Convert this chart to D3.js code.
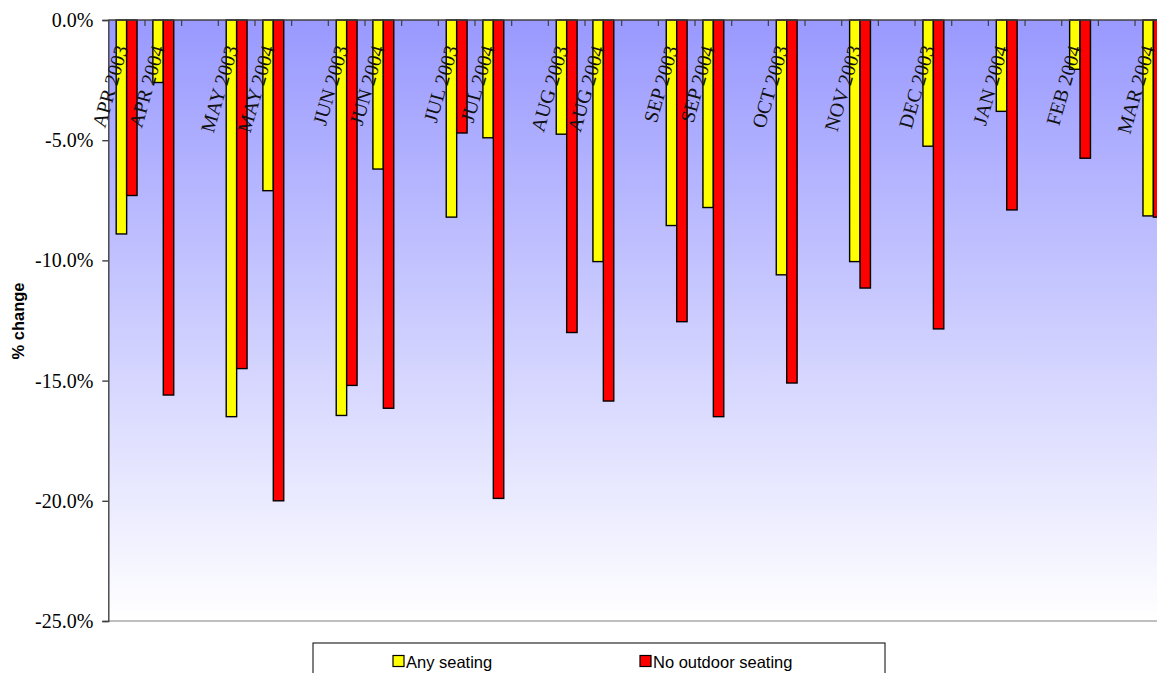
<!DOCTYPE html>
<html><head><meta charset="utf-8">
<script src="https://cdn.jsdelivr.net/npm/d3@7"></script>
<style>
html,body{margin:0;padding:0;background:#fff;overflow:hidden;}
svg{display:block;}
</style></head>
<body>
<svg id="chart" width="1157" height="673"></svg>
<script>
// ---- data ----
const categories = ["APR 2003","APR 2004","","MAY 2003","MAY 2004","","JUN 2003","JUN 2004","","JUL 2003","JUL 2004","","AUG 2003","AUG 2004","","SEP 2003","SEP 2004","","OCT 2003","","NOV 2003","","DEC 2003","","JAN 2004","","FEB 2004","","MAR 2004"];
const anySeating = [-8.9,-2.6,null,-16.5,-7.1,null,-16.45,-6.2,null,-8.2,-4.9,null,-4.75,-10.05,null,-8.55,-7.8,null,-10.6,null,-10.05,null,-5.25,null,-3.8,null,-2.05,null,-8.15];
const noOutdoor = [-7.3,-15.6,null,-14.5,-20.0,null,-15.2,-16.15,null,-4.7,-19.9,null,-13.0,-15.85,null,-12.55,-16.5,null,-15.1,null,-11.15,null,-12.85,null,-7.9,null,-5.75,null,-8.2];
const seriesNames = ["Any seating","No outdoor seating"];
const seriesColors = ["#FFFF00","#FF0000"];
const yTicks = [0,-5,-10,-15,-20,-25];
const yTitle = "% change";

(function(){
const svg = d3.select("#chart");
const pLeft = 108.3, pTop = 20, pBottom = 621;
const step = 36.67;
const pRight = pLeft + categories.length * step;

const x0 = d3.scaleBand().domain(d3.range(categories.length)).range([pLeft, pRight]).padding(0);
const x1 = d3.scaleBand().domain([0,1]).range([0, x0.bandwidth()]).paddingInner(0).paddingOuter(0.76);
const y = d3.scaleLinear().domain([-25, 0]).range([pBottom, pTop]);

// background gradient
const defs = svg.append("defs");
const grad = defs.append("linearGradient").attr("id","bg").attr("x1",0).attr("y1",0).attr("x2",0).attr("y2",1);
grad.append("stop").attr("offset","0%").attr("stop-color","#9999FF");
grad.append("stop").attr("offset","100%").attr("stop-color","#FFFFFF");
svg.append("rect").attr("x", pLeft).attr("y", y(0)).attr("width", pRight-pLeft).attr("height", y(-25)-y(0)).attr("fill","url(#bg)");

// bottom border of plot area
svg.append("line").attr("x1", pLeft).attr("x2", pRight).attr("y1", y(-25)).attr("y2", y(-25)).attr("stroke","#808080").attr("stroke-width",1.2);

// category ticks at slot boundaries
svg.append("g").selectAll("line").data(d3.range(1, categories.length)).join("line")
  .attr("x1", i => x0(i)).attr("x2", i => x0(i))
  .attr("y1", y(0)).attr("y2", y(0)+6)
  .attr("stroke","#404040").attr("stroke-width",1.2);

// bars
const rows = categories.map((c,i) => ({i, vals:[anySeating[i], noOutdoor[i]]}));
const grp = svg.append("g").selectAll("g").data(rows).join("g")
  .attr("transform", d => `translate(${x0(d.i)},0)`);
grp.selectAll("rect").data(d => d.vals.map((v,k)=>({v,k})).filter(e => e.v !== null)).join("rect")
  .attr("x", e => x1(e.k))
  .attr("width", x1.bandwidth())
  .attr("y", y(0))
  .attr("height", e => y(e.v) - y(0))
  .attr("fill", e => seriesColors[e.k])
  .attr("stroke","#000").attr("stroke-width",1.4);

// top axis line
svg.append("line").attr("x1", pLeft).attr("x2", pRight).attr("y1", y(0)).attr("y2", y(0)).attr("stroke","#404040").attr("stroke-width",1.6);

// y axis
const yAxis = d3.axisLeft(y).tickValues(yTicks).tickSize(6).tickPadding(9).tickFormat(d => d.toFixed(1) + "%");
const ya = svg.append("g").attr("transform", `translate(${pLeft},0)`).call(yAxis);
ya.select(".domain").attr("stroke","#404040").attr("stroke-width",1.4);
ya.selectAll(".tick line").attr("stroke","#404040").attr("stroke-width",1.4);
ya.selectAll(".tick text").attr("font-family","'Liberation Serif','Times New Roman',serif").attr("font-size",20).attr("fill","#000");

// category labels (rotated, on top of bars)
svg.append("g").selectAll("text").data(rows.filter(d => categories[d.i] !== "")).join("text")
  .attr("transform", d => `translate(${x0(d.i)+x0.bandwidth()/2+1.5},48) rotate(-74)`)
  .attr("text-anchor","end")
  .attr("font-family","'Liberation Serif','Times New Roman',serif")
  .attr("font-size",20)
  .attr("fill","#111")
  .text(d => categories[d.i]);

// y title
svg.append("text").attr("transform","translate(24,321) rotate(-90)")
  .attr("text-anchor","middle")
  .attr("font-family","'Liberation Sans',Arial,sans-serif")
  .attr("font-weight","bold").attr("font-size",16.5)
  .text(yTitle);

// legend
const lg = svg.append("g");
lg.append("rect").attr("x",313).attr("y",643).attr("width",572).attr("height",40).attr("fill","#fff").attr("stroke","#000").attr("stroke-width",1);
const legX = [393, 640];
seriesNames.forEach((n,k) => {
  lg.append("rect").attr("x",legX[k]).attr("y",655.5).attr("width",11).attr("height",11).attr("fill",seriesColors[k]).attr("stroke","#000").attr("stroke-width",1.2);
  lg.append("text").attr("x",legX[k]+13).attr("y",667.5).attr("font-family","'Liberation Sans',Arial,sans-serif").attr("font-size",16.5).text(n);
});
})();
</script>
</body></html>
